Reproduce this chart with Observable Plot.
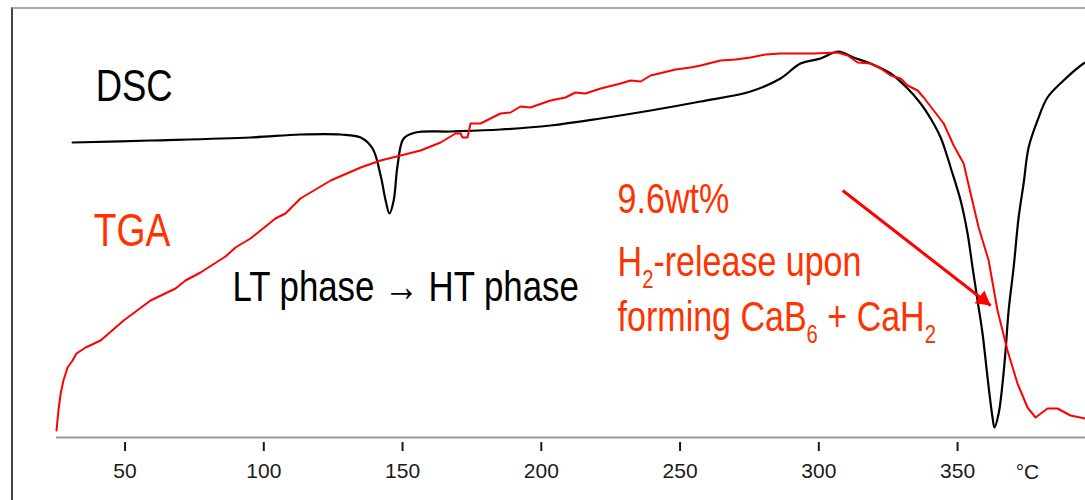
<!DOCTYPE html>
<html>
<head>
<meta charset="utf-8">
<script src="https://cdn.jsdelivr.net/npm/d3@7"></script>
<script src="https://cdn.jsdelivr.net/npm/@observablehq/plot@0.6"></script>
<style>
  body { margin: 0; background: #fff; }
  #wrap { position: relative; width: 1085px; height: 500px; overflow: hidden; background: #fff; }
  #wrap svg { display: block; }
  #border { position: absolute; left: 11px; top: 7px; right: -10px; bottom: -10px;
            border-left: 2.5px solid #444; border-top: 2px solid #aaa; pointer-events: none; }
</style>
</head>
<body>
<div id="wrap"><div id="border"></div></div>
<script>
// Temperature (°C) and signal (arbitrary units)
const dscTemp = [31.1, 59.2, 95.2, 113.2, 127.7, 134.9, 139.2, 142.1, 143.9, 145.3, 146.8, 148.2, 150.4, 154.7, 167.3, 185.3, 203.3, 221.4, 239.4, 257.4, 275.4, 286.2, 293.4, 300.6, 307.1, 312.5, 318.6, 325.9, 332.0, 336.7, 340.3, 343.9, 346.4, 347.5, 351.1, 353.6, 355.4, 357.2, 359.0, 360.8, 362.6, 363.3, 364.8, 366.2, 367.3, 368.4, 370.2, 372.0, 373.8, 375.6, 378.8, 382.4, 388.2, 395.4, 396.1];
const dscSignal = [295, 297, 300, 303, 303, 300, 289, 262, 237, 224, 237, 272, 299, 305, 306, 308, 312, 319, 327, 336, 346, 359, 374, 379, 386, 380, 374, 364, 349, 334, 319, 300, 280, 270, 237, 204, 170, 137, 104, 60, 20, 10, 24, 54, 87, 127, 170, 220, 254, 290, 317, 340, 357, 374, 375];

const tgaTemp = [25.3, 26.0, 26.8, 27.8, 29.3, 31.1, 32.5, 35.8, 41.2, 49.5, 59.2, 68.2, 71.8, 77.2, 86.2, 89.8, 95.2, 104.2, 107.8, 113.2, 124.1, 134.9, 142.1, 149.3, 156.5, 163.7, 169.1, 170.9, 171.6, 173.4, 174.5, 178.1, 181.7, 185.3, 188.9, 192.5, 196.1, 203.3, 208.7, 212.3, 215.9, 221.4, 228.6, 232.2, 235.8, 239.4, 248.4, 253.8, 257.4, 264.6, 270.0, 275.4, 280.8, 286.2, 290.9, 298.1, 306.8, 310.4, 314.0, 318.6, 322.3, 325.9, 329.5, 332.0, 335.6, 337.8, 341.4, 345.0, 348.6, 352.2, 353.6, 357.6, 361.2, 364.4, 368.0, 371.6, 375.2, 378.1, 382.4, 386.0, 390.7, 396.1];
const tgaSignal = [7, 27, 44, 57, 70, 77, 84, 90, 97, 117, 137, 149, 157, 165, 181, 190, 199, 219, 224, 239, 257, 270, 277, 282, 287, 295, 304, 304, 300, 300, 314, 314, 319, 324, 325, 331, 330, 337, 340, 345, 344, 349, 354, 357, 356, 362, 368, 370, 372, 377, 378, 380, 383, 384, 384, 384, 385, 382, 375, 374, 369, 362, 359, 352, 347, 340, 327, 314, 292, 274, 257, 210, 177, 127, 87, 54, 30, 20, 29, 29, 22, 19];

const tickValues = [50, 100, 150, 200, 250, 300, 350];
const unitLabel = "°C";
const unitTemp = 375.2;

// Annotations (text, temperature, signal)
const blackNotes = ["DSC", "LT phase → HT phase"];
const blackNoteTemp = [39.4, 88.7];
const blackNoteSignal = [337, 137];
const redNotes = ["TGA", "9.6wt%", "H_2-release upon", "forming CaB_6 + CaH_2"];
const redNoteTemp = [38.7, 227.5, 227.5, 227.5];
const redNoteSignal = [192, 225, 162, 107];
const arrowFrom = [308.6, 247];
const arrowTo = [361.9, 132];

const dsc = dscTemp.map((t, i) => ({t, v: dscSignal[i]}));
const tga = tgaTemp.map((t, i) => ({t, v: tgaSignal[i]}));
const black = blackNotes.map((s, i) => ({s, t: blackNoteTemp[i], v: blackNoteSignal[i]}));
const red = redNotes.map((s, i) => ({s, t: redNoteTemp[i], v: redNoteSignal[i]}));
const arrow = [{x1: arrowFrom[0], y1: arrowFrom[1], x2: arrowTo[0], y2: arrowTo[1]}];

const svg = Plot.plot({
  width: 1085,
  height: 500,
  marginLeft: 56,
  marginRight: 0,
  marginTop: 7,
  marginBottom: 63,
  style: {fontFamily: "'Liberation Sans', Arial, sans-serif", background: "transparent"},
  x: {domain: [25.3, 396.1]},
  y: {domain: [0, 430], axis: null},
  marks: [
    Plot.ruleY([0], {stroke: "#999", strokeWidth: 2}),
    Plot.axisX({ticks: tickValues, tickSize: 9, tickPadding: 12, dy: 5, fontSize: 21,
                strokeWidth: 2, color: "#1a1a1a", label: null, tickFormat: d => String(d)}),
    Plot.text([unitLabel], {x: () => unitTemp, frameAnchor: "bottom", dy: 41, lineAnchor: "bottom",
                text: d => d, fontSize: 21, fill: "#1a1a1a"}),
    Plot.line(dsc, {x: "t", y: "v", stroke: "#000", strokeWidth: 2.2, curve: "catmull-rom"}),
    Plot.line(tga, {x: "t", y: "v", stroke: "#ff0000", strokeWidth: 2}),
    Plot.link(arrow, {x1: "x1", y1: "y1", x2: "x2", y2: "y2", stroke: "#f00", strokeWidth: 3}),
    Plot.dot(arrow, {x: "x2", y: "y2", symbol: "triangle", r: 6, rotate: 127.8, fill: "#f00",
                     stroke: "none", dx: -7.4, dy: -5.7}),
    Plot.text(black, {x: "t", y: "v", text: "s", textAnchor: "start", lineAnchor: "bottom",
                      fontSize: 43, fill: "#000"}),
    Plot.text(red, {x: "t", y: "v", text: "s", textAnchor: "start", lineAnchor: "bottom",
                    fontSize: 42, fill: "#ff3300"})
  ]
});

// condense the annotation font and draw subscripts
const noteSet = new Set([...blackNotes, ...redNotes]);
d3.select(svg).selectAll("text").each(function() {
  const t = this;
  const raw = t.textContent;
  if (!noteSet.has(raw)) return;
  const big = raw === "DSC" || raw === "TGA";
  if (big) t.setAttribute("font-size", raw === "DSC" ? 45 : 46);
  const parts = raw.split(/_(\d)/);
  if (parts.length > 1) {
    t.textContent = "";
    let shifted = false;
    parts.forEach((p, i) => {
      if (p === "") return;
      const ts = document.createElementNS("http://www.w3.org/2000/svg", "tspan");
      ts.textContent = p;
      if (i % 2 === 1) {
        ts.setAttribute("font-size", 25);
        ts.setAttribute("dy", 12);
        shifted = true;
      } else if (shifted) {
        ts.setAttribute("dy", -12);
        shifted = false;
      }
      t.appendChild(ts);
    });
  }
  const tr = t.getAttribute("transform") || "";
  const x = +(t.getAttribute("x") || 0), y = +(t.getAttribute("y") || 0);
  t.removeAttribute("x"); t.removeAttribute("y");
  t.setAttribute("transform", `${tr} translate(${x},${y}) scale(0.81,1)`);
});

document.getElementById("wrap").insertBefore(svg, document.getElementById("border"));
</script>
</body>
</html>
